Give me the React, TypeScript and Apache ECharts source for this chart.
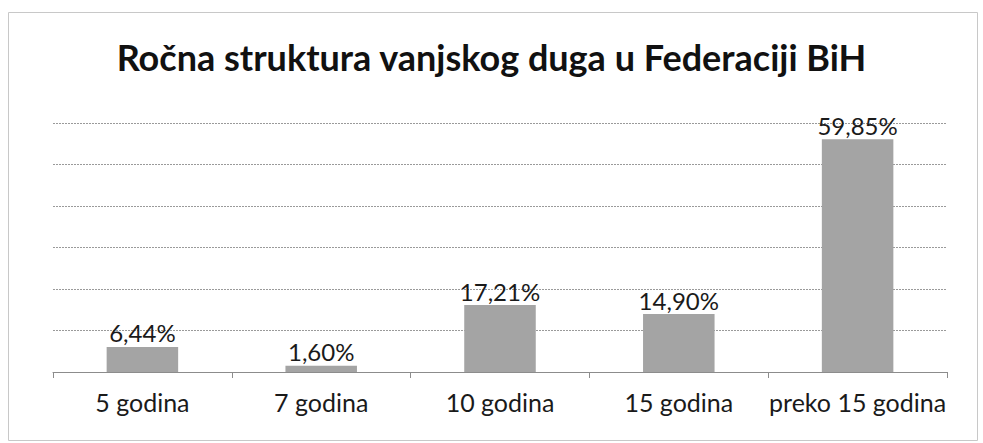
import React, { useEffect, useRef } from "react";
import * as echarts from "echarts";

const titleText = "Ročna struktura vanjskog duga u Federaciji BiH";
const categories = ["5 godina", "7 godina", "10 godina", "15 godina", "preko 15 godina"];
const values = [6.44, 1.6, 17.21, 14.9, 59.85];
const axisMax = 64;
const gridCount = 6;

export default function App() {
  const ref = useRef<HTMLDivElement>(null);
  useEffect(() => {
    const chart = echarts.init(ref.current!, null, { renderer: "svg" });
    const font = "Lato, 'Open Sans', sans-serif";
    chart.setOption({
      animation: false,
      backgroundColor: "#ffffff",
      title: {
        text: titleText,
        left: "center",
        top: 34,
        textStyle: { fontFamily: font, fontSize: 36, fontWeight: "bold", color: "#111" },
      },
      graphic: [
        {
          type: "rect",
          shape: { x: 8.5, y: 12.5, width: 969, height: 428 },
          style: { fill: "none", stroke: "#c8c8c8", lineWidth: 1 },
          silent: true,
        },
      ],
      grid: { left: 53, right: 36, top: 123, bottom: 71, containLabel: false },
      xAxis: {
        type: "category",
        data: categories,
        axisLine: { lineStyle: { color: "#8c8c8c", width: 1 } },
        axisTick: { show: true, length: 6, alignWithLabel: false, lineStyle: { color: "#8c8c8c" } },
        axisLabel: { interval: 0, fontFamily: font, fontSize: 25, color: "#1a1a1a", margin: 17 },
      },
      yAxis: {
        type: "value",
        min: 0,
        max: axisMax,
        interval: axisMax / gridCount,
        axisLabel: { show: false },
        axisLine: { show: false },
        axisTick: { show: false },
        splitLine: { lineStyle: { color: "#9a9a9a", width: 1, type: [2, 1] } },
      },
      series: [
        {
          type: "bar",
          data: values,
          barWidth: "40%",
          itemStyle: { color: "#a4a4a4" },
          label: {
            show: true,
            position: "top",
            distance: 2,
            fontFamily: font,
            fontSize: 24,
            color: "#1a1a1a",
            formatter: (p: any) => p.value.toFixed(2).replace(".", ",") + "%",
          },
        },
      ],
    });
    return () => chart.dispose();
  }, []);
  return (
    <div
      ref={ref}
      style={{ position: "fixed", left: 0, top: 0, width: 983, height: 443 }}
    />
  );
}
